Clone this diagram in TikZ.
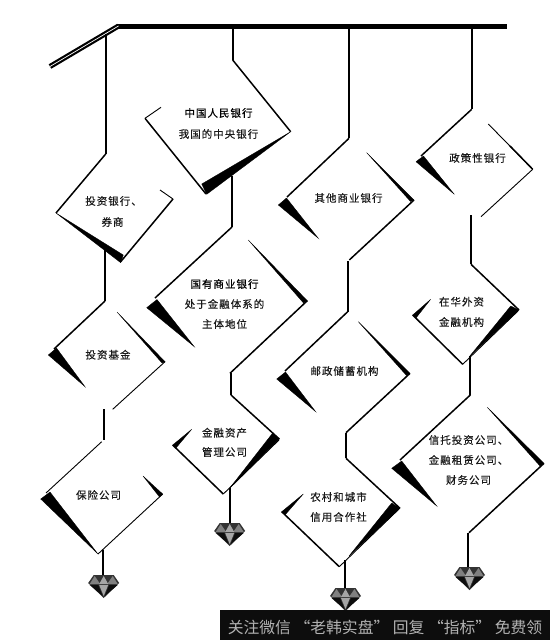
\documentclass[tikz,border=0pt]{standalone}
\usepackage{fontspec}
\usepackage{tikz}
\newfontfamily\cjk[LetterSpace=9.5,FakeBold=0.25]{Noto Sans CJK SC}
\newfontfamily\cjkhead[LetterSpace=9.5,FakeBold=0.7]{Noto Sans CJK SC}
\newfontfamily\cjkbar{Noto Sans CJK SC}
\tikzset{
    wire/.style={line width=2pt,black},
    edge/.style={line width=1.5pt,black},
    hair/.style={line width=0.9pt,black},
    wedge/.style={fill=black,draw=black,line width=0.3pt,line join=miter},
    label/.style={inner sep=0pt,font=\cjk\fontsize{10.5}{12}\selectfont,text=black!90},
    headlabel/.style={label,font=\cjkhead\fontsize{10.5}{12}\selectfont,text=black},
    gem/.pic={
        \fill[black!80] (-10,0) -- (10,0) -- (15.5,8) -- (0,23) -- (-15.5,8) -- cycle;
        \fill[black!50] (-9,1) -- (-3.5,9) -- (-14,9) -- cycle;
        \fill[black!50] (9,1) -- (14,9) -- (3.5,9) -- cycle;
        \fill[black!35] (0,1) -- (4.5,9) -- (-4.5,9) -- cycle;
        \fill[black!35] (-4.5,10) -- (4.5,10) -- (0,21) -- cycle;
        \fill[black!95] (-14,10) -- (-5.5,10) -- (-1,21) -- cycle;
        \fill[black!95] (14,10) -- (5.5,10) -- (1,21) -- cycle;
    }
}

\begin{document}
\begin{tikzpicture}[x=1pt,y=-1pt]
    \useasboundingbox (0,0) rectangle (550,640);

    % ceiling
    \draw[line width=4.6pt] (117,26.2) -- (507,26.2);
    \draw[line width=2.2pt,double=white,double distance=0.7pt]
        (50,66.5) -- (118.5,26);

    % hanging rails
    \draw[wire] (105.7,34) -- (105.7,154);
    \draw[wire] (105,250) -- (105,301);
    \draw[wire] (104,409) -- (104,440);
    \draw[wire] (102.7,550) -- (102.7,576);
    \draw[wire] (232.7,27) -- (232.7,60);
    \draw[wire] (232,176) -- (232,227);
    \draw[wire] (231,373) -- (231,395);
    \draw[wire] (230,488) -- (230,523);
    \draw[wire] (349,27) -- (349,138.3);
    \draw[wire] (347.7,261) -- (347.7,311.7);
    \draw[wire] (346,433) -- (346,458.3);
    \draw[wire] (345,560) -- (345,590);
    \draw[wire] (471.7,27) -- (471.7,109.3);
    \draw[wire] (471,215) -- (471,264.3);
    \draw[wire] (470.3,356) -- (470.3,395);
    \draw[wire] (468.3,532.7) -- (468.3,567);

    % first column
    \draw[edge] (105.7,154) -- (56,213);
    \fill[wedge] (56,213) -- (120.7,262.7) -- (123.3,255) -- cycle;
    \draw[edge] (120.7,261.7) -- (173,199);
    \draw[hair] (173,199) -- (160,190);

    \draw[edge] (105,301) -- (54,349);
    \fill[wedge] (48.3,355) -- (85,386.7) -- (56.5,348) -- cycle;
    \fill[wedge] (117,312) -- (165,361.7) -- (162,363) -- cycle;
    \draw[hair] (165,361.7) -- (112.7,409.3);

    \draw[hair] (101.7,441.7) -- (46,493);
    \fill[wedge] (40.7,499) -- (98,554) -- (50,492) -- cycle;
    \draw[hair] (98,554) -- (162.7,494);
    \fill[wedge] (143,476) -- (162.7,494) -- (159.5,497) -- cycle;

    % second column
    \draw[edge] (232.7,60) -- (290.7,131.7);
    \fill[wedge] (290.7,131.7) -- (201.7,184) -- (206.7,194.3) -- cycle;
    \draw[edge] (206,194) -- (145,118.3);
    \draw[hair] (145,118.3) -- (161,107.3);

    \draw[edge] (232,227) -- (155,298);
    \fill[wedge] (146.7,307.7) -- (194.3,346.7) -- (157,299.5) -- cycle;
    \fill[wedge] (248.3,240) -- (307.3,300.7) -- (303.5,303) -- cycle;
    \draw[edge] (307.3,300.7) -- (230,373.3);

    \draw[edge] (231,395) -- (279.3,439);
    \fill[wedge] (279.3,439) -- (272.7,433) -- (229,489) -- cycle;
    \draw[hair] (223.3,494) -- (279,440);
    \draw[edge] (223.3,494) -- (172.7,445);
    \fill[wedge] (172.7,445) -- (191.7,429.3) -- (176,448) -- cycle;

    % third column
    \draw[edge] (349,138.3) -- (287,197);
    \fill[wedge] (278.3,205) -- (318.3,238.3) -- (286.5,198) -- cycle;
    \fill[wedge] (366.7,152.7) -- (414,200) -- (410.5,201.5) -- cycle;
    \draw[edge] (414,200) -- (349.3,260);

    \draw[edge] (347.7,311.7) -- (285,371);
    \fill[wedge] (276.7,379) -- (315.7,411.7) -- (285.5,372) -- cycle;
    \fill[wedge] (358.3,321.7) -- (410,373.3) -- (406.5,375.5) -- cycle;
    \draw[edge] (410,373.3) -- (346,432.7);

    \draw[edge] (346,458.3) -- (400,508.3);
    \fill[wedge] (400,508.3) -- (391.7,503) -- (349,556) -- cycle;
    \draw[hair] (339.3,566.7) -- (399,509);
    \draw[edge] (339.3,566.7) -- (281.7,511.7);
    \fill[wedge] (281.7,511.7) -- (303.3,494) -- (285,515) -- cycle;

    % fourth column
    \draw[edge] (471.7,109.3) -- (421,156);
    \fill[wedge] (416,161.7) -- (454.3,194.3) -- (423.5,156) -- cycle;
    \draw[hair] (488.3,124) -- (532.7,169.3);
    \draw[edge] (510,146) -- (532.7,169.3);
    \draw[hair] (532.7,169.3) -- (481,216.7);

    \draw[edge] (471,264.3) -- (519,310);
    \fill[wedge] (519,310) -- (510.7,306) -- (469,357) -- cycle;
    \draw[hair] (462.7,364.3) -- (518,311);
    \draw[edge] (462.7,364.3) -- (412.7,315);
    \fill[wedge] (412.7,315) -- (430.7,299.3) -- (416,318) -- cycle;

    \draw[edge] (470.3,395) -- (400,460);
    \fill[wedge] (391.7,468.3) -- (436.7,506) -- (401.7,461) -- cycle;
    \fill[wedge] (487.3,407.3) -- (544,463.3) -- (540,466) -- cycle;
    \draw[edge] (544,463.3) -- (469,532.7);

    % gems
    \pic at (103.7,575) {gem};
    \pic at (229.7,523) {gem};
    \pic at (345.5,588) {gem};
    \pic at (469.5,567) {gem};

    % texts
    \node[headlabel] (renmin) at (218.5,113) {中国人民银行};
    \node[label] (central) at (218.5,134) {我国的中央银行};
    \node[label] (touhang) at (113.5,201) {投资银行、};
    \node[label] (quanshang) at (112.5,222) {券商};
    \node[label] (other) at (348.5,198) {其他商业银行};
    \node[label] (policy) at (477.5,158) {政策性银行};
    \node[headlabel] (state) at (224.5,284) {国有商业银行};
    \node[label] (stateb) at (224.5,304) {处于金融体系的};
    \node[label] (statec) at (224.5,324) {主体地位};
    \node[label] (fund) at (108,354.7) {投资基金};
    \node[label] (foreign) at (461.5,301.7) {在华外资};
    \node[label] (foreignb) at (461.5,322) {金融机构};
    \node[label] (postal) at (344.5,371) {邮政储蓄机构};
    \node[label] (asset) at (224.5,432.7) {金融资产};
    \node[label] (assetb) at (224.5,452) {管理公司};
    \node[label] (insure) at (98.5,495) {保险公司};
    \node[label] (trust) at (468.5,440) {信托投资公司、};
    \node[label] (trustb) at (468.5,460) {金融租赁公司、};
    \node[label] (trustc) at (468.5,480) {财务公司};
    \node[label] (rural) at (338.5,497) {农村和城市};
    \node[label] (ruralb) at (338.5,517) {信用合作社};

    % bottom strip
    \fill[black!95] (220,610) rectangle (550,640);
    \node[inner sep=0pt,font=\cjkbar\fontsize{15.8}{18}\selectfont,text=black!30] (strip) at (385,627.5)
        {关注微信 “老韩实盘” 回复 “指标” 免费领};
\end{tikzpicture}
\end{document}
